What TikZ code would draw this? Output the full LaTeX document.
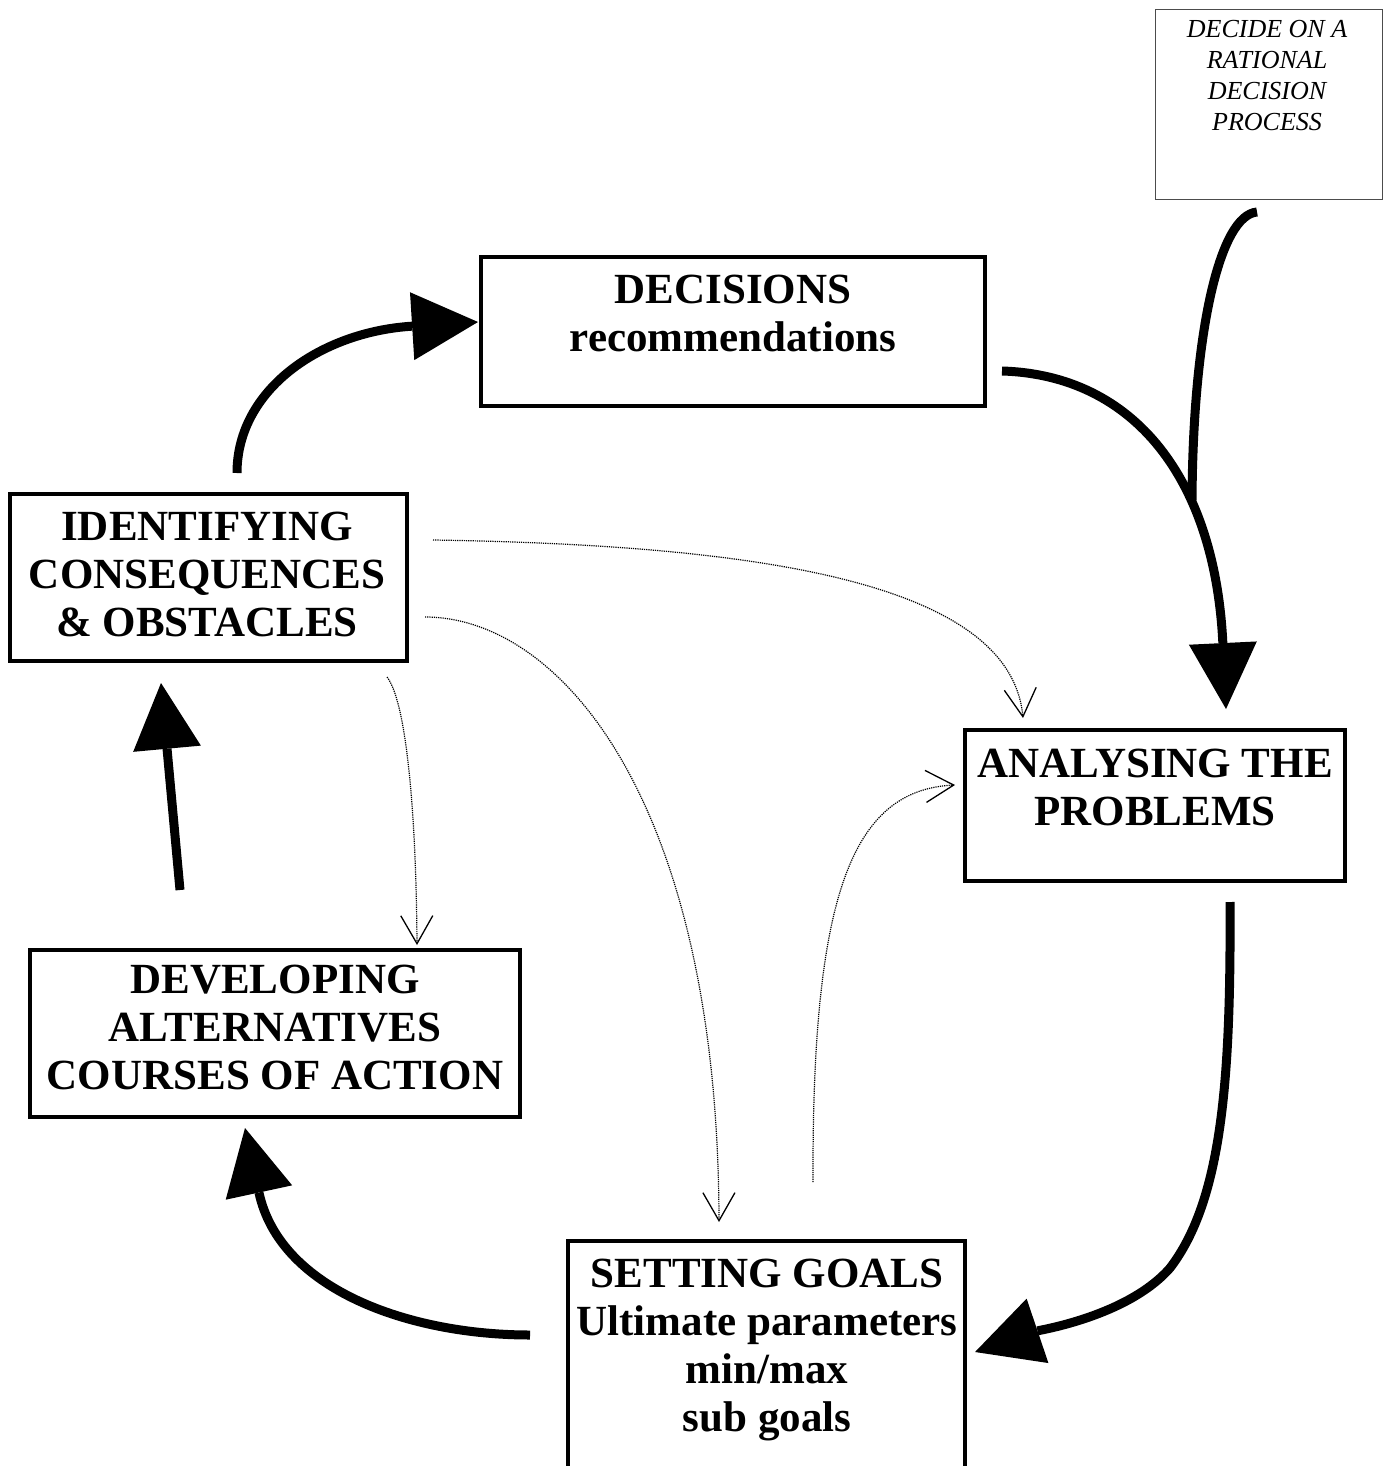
\documentclass[tikz,border=0pt]{standalone}
\usepackage{fontspec}
\setmainfont{Liberation Serif}
\usetikzlibrary{arrows.meta}
\tikzset{
  bigbox/.style={draw, line width=4pt, inner sep=0pt, rectangle},
  thinbox/.style={draw=black!70, line width=1pt, inner sep=0pt, rectangle},
  lbl/.style={font=\bfseries\fontsize{43}{48}\selectfont, align=center, inner sep=0pt, anchor=base},
  ilbl/.style={font=\itshape\fontsize{26}{31}\selectfont, align=center, inner sep=0pt, anchor=base},
  flow/.style={line width=9pt, -{Triangle[length=66pt,width=68pt,line width=0pt]}},
  plain/.style={line width=9pt},
  dotflow/.style={line width=1.2pt, dash pattern=on 1.2pt off 1pt, draw=black,
    -{Straight Barb[length=28pt,width=32pt,line width=1.3pt,color=black]}}
}
\begin{document}
\begin{tikzpicture}[x=1pt,y=-1pt]
\fill[white] (0,0) rectangle (1383,1466);
\useasboundingbox (0,0) rectangle (1383,1466);

% boxes
\node[thinbox, minimum width=227pt, minimum height=190pt] (tr) at (1268.5,105) {};
\node[bigbox, minimum width=504pt, minimum height=149pt] (dec) at (733,331.5) {};
\node[bigbox, minimum width=397pt, minimum height=167pt] (ident) at (208.5,577.5) {};
\node[bigbox, minimum width=380pt, minimum height=151pt] (anal) at (1155,805.5) {};
\node[bigbox, minimum width=490pt, minimum height=167pt] (dev) at (275,1033.5) {};
\node[bigbox, minimum width=397pt, minimum height=279pt] (goals) at (766.5,1380.5) {};

% texts (anchored at the baseline of their last line)
\node[ilbl] (trT) at (1267,131) {DECIDE ON A\\RATIONAL\\DECISION\\PROCESS};
\node[lbl] (decT) at (733,351) {DECISIONS\\recommendations};
\node[lbl] (identT) at (207,636) {IDENTIFYING\\CONSEQUENCES\\\& OBSTACLES};
\node[lbl] (analT) at (1155,825) {ANALYSING THE\\PROBLEMS};
\node[lbl] (devT) at (275,1089) {DEVELOPING\\ALTERNATIVES\\COURSES OF ACTION};
\node[lbl] (goalsT) at (767,1431) {SETTING GOALS\\Ultimate parameters\\min/max\\sub goals};

% connector end points
\coordinate (a1s) at (237,473);  \coordinate (a1e) at (478,322);
\coordinate (a2s) at (1002,371); \coordinate (a2e) at (1226,709);
\coordinate (a3s) at (1257,212); \coordinate (a3e) at (1192,500);
\coordinate (a4s) at (1230,902); \coordinate (a4m) at (1170,1268); \coordinate (a4e) at (975,1352);
\coordinate (a5s) at (530,1335); \coordinate (a5e) at (245,1128);
\coordinate (a6s) at (180,890);  \coordinate (a6e) at (161,683);

\coordinate (d1s) at (433,540);  \coordinate (d1e) at (1023,718);
\coordinate (d2s) at (425,617);  \coordinate (d2e) at (719,1222);
\coordinate (d3s) at (387,677);  \coordinate (d3e) at (417,945);
\coordinate (d4s) at (813,1182); \coordinate (d4e) at (955,785);

% thick connectors
\draw[flow] (a1s) .. controls (237,390) and (320,332) .. (a1e);
\draw[flow] (a2s) .. controls (1135,375) and (1215,480) .. (a2e);
\draw[plain] (a3s) .. controls (1220,215) and (1193,330) .. (a3e);
\draw[flow] (a4s) .. controls (1231,1080) and (1222,1200) .. (a4m)
                  .. controls (1128,1316) and (1040,1330) .. (a4e);
\draw[flow] (a5s) .. controls (410,1335) and (280,1290) .. (a5e);
\draw[flow] (a6s) -- (a6e);

% dotted connectors
\draw[dotflow] (d1s) .. controls (750,545) and (1010,580) .. (d1e);
\draw[dotflow] (d2s) .. controls (560,617) and (718,800) .. (d2e);
\draw[dotflow] (d3s) .. controls (405,700) and (416,800) .. (d3e);
\draw[dotflow] (d4s) .. controls (812,900) and (850,790) .. (d4e);
\end{tikzpicture}
\end{document}
